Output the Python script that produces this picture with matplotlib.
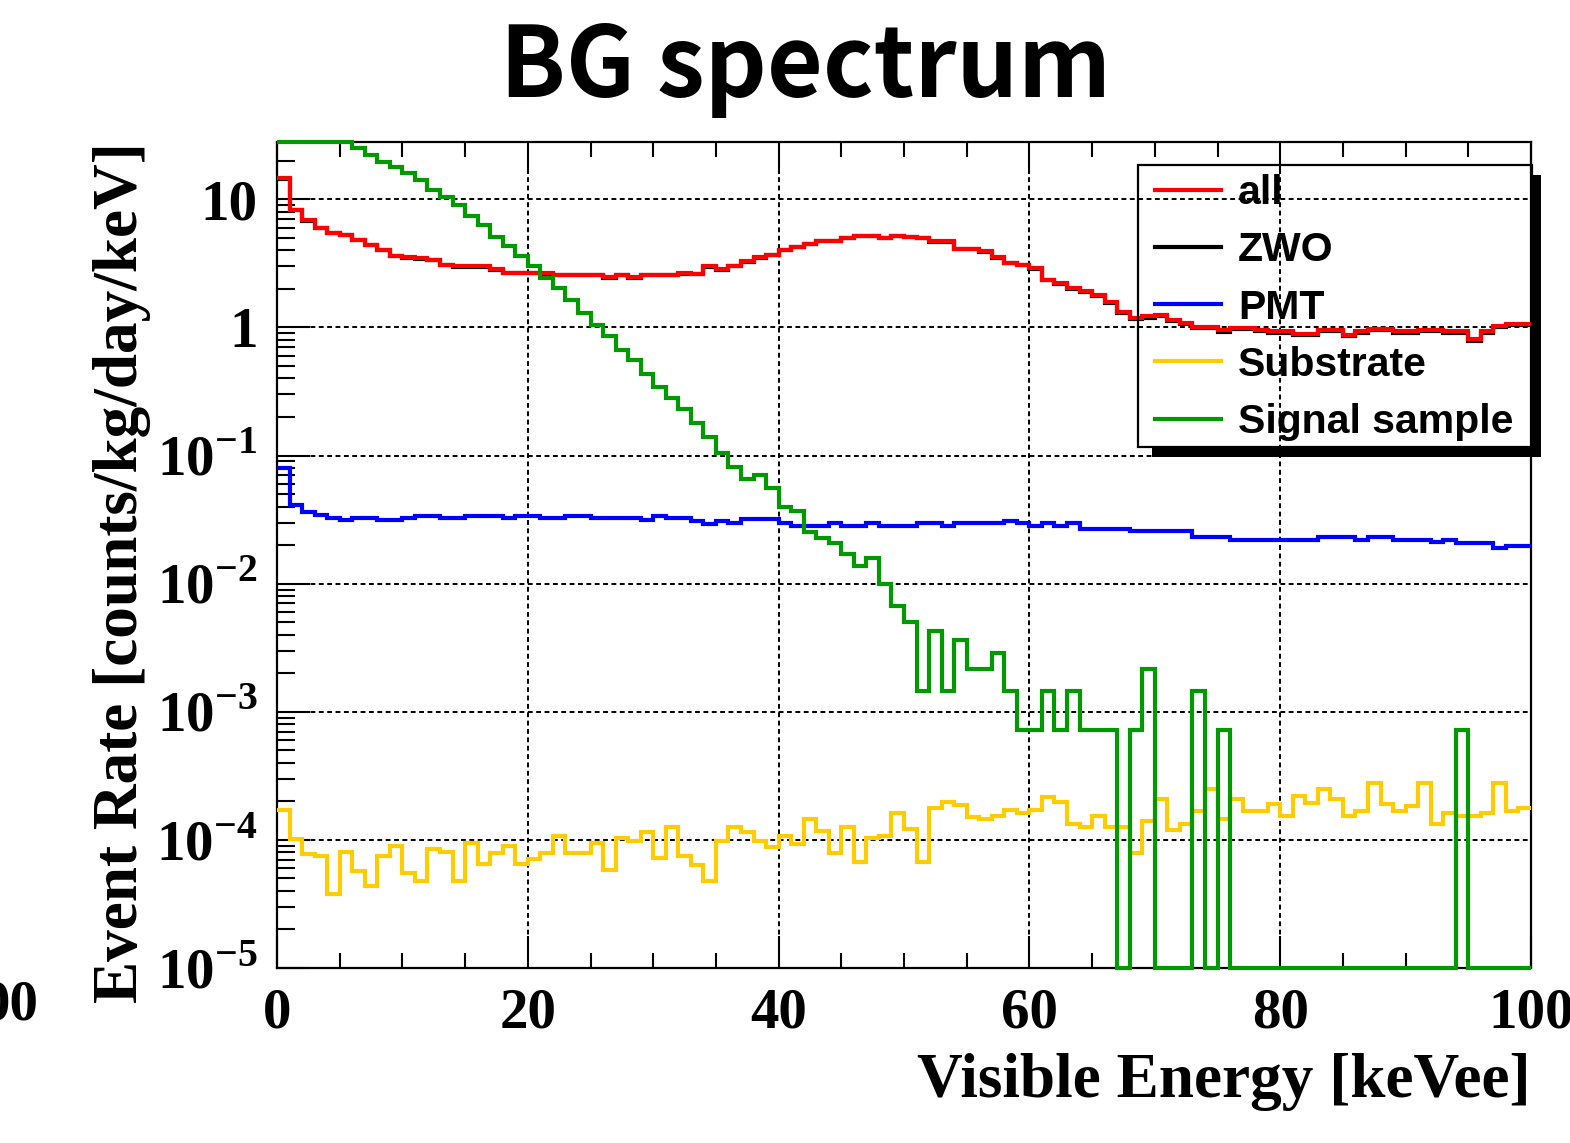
import numpy as np
import matplotlib
matplotlib.use("Agg")
import matplotlib.pyplot as plt
from matplotlib.lines import Line2D
from matplotlib.patches import Rectangle
from matplotlib.ticker import FixedLocator, LogLocator, FuncFormatter, MultipleLocator, NullFormatter

plt.rcParams['mathtext.fontset'] = 'custom'
plt.rcParams['mathtext.rm'] = 'Liberation Serif:bold'
plt.rcParams['mathtext.bf'] = 'Liberation Serif:bold'

# 1 keV bins, 0-100 keVee
edges = np.arange(0, 101)

all_rate = [14.6, 8.3, 6.85, 5.96, 5.45, 5.28, 4.83, 4.42, 4.04, 3.62,
            3.54, 3.48, 3.37, 3.08, 2.99, 2.99, 2.99, 2.85, 2.68, 2.68,
            2.68, 2.65, 2.58, 2.58, 2.58, 2.58, 2.46, 2.58, 2.46, 2.58,
            2.58, 2.58, 2.64, 2.62, 2.99, 2.85, 3.03, 3.27, 3.52, 3.69,
            4.04, 4.24, 4.50, 4.75, 4.75, 4.98, 5.19, 5.19, 4.98, 5.19,
            5.07, 4.98, 4.69, 4.69, 4.09, 4.09, 3.92, 3.52, 3.21, 3.08,
            2.90, 2.36, 2.22, 2.03, 1.91, 1.80, 1.57, 1.33, 1.18, 1.22,
            1.26, 1.15, 1.08, 1.01, 1.01, 0.95, 0.99, 0.99, 0.96, 0.93,
            0.93, 0.89, 0.89, 0.96, 0.96, 0.88, 0.93, 0.97, 0.97, 0.93,
            0.93, 0.96, 0.96, 0.93, 0.93, 0.81, 0.93, 1.02, 1.07, 1.07]

pmt_rate = [0.080, 0.0414, 0.036, 0.0346, 0.0326, 0.0313, 0.0326, 0.0326, 0.0313, 0.0313,
            0.0326, 0.034, 0.034, 0.0326, 0.0326, 0.034, 0.034, 0.034, 0.0326, 0.034,
            0.034, 0.0326, 0.0326, 0.034, 0.034, 0.0326, 0.0326, 0.0326, 0.0326, 0.0313,
            0.034, 0.0326, 0.0326, 0.0307, 0.0294, 0.031, 0.030, 0.0318, 0.0318, 0.0318,
            0.030, 0.0284, 0.0282, 0.0282, 0.030, 0.0282, 0.0282, 0.030, 0.0282, 0.0282,
            0.0282, 0.030, 0.030, 0.0282, 0.030, 0.030, 0.030, 0.030, 0.031, 0.030,
            0.0282, 0.030, 0.0282, 0.030, 0.0267, 0.0267, 0.0267, 0.0267, 0.0257, 0.0257,
            0.0257, 0.0257, 0.0257, 0.0230, 0.0230, 0.0230, 0.0221, 0.0221, 0.0221, 0.0221,
            0.0221, 0.0221, 0.0221, 0.0230, 0.0230, 0.0230, 0.0221, 0.0230, 0.0230, 0.0221,
            0.0221, 0.0221, 0.0211, 0.0221, 0.0208, 0.0208, 0.0208, 0.0190, 0.0198, 0.0198]

substrate_rate = [1.71e-4, 1.01e-4, 7.71e-5, 7.48e-5, 3.76e-5, 8.03e-5, 5.71e-5, 4.36e-5, 7.48e-5, 8.95e-5,
                  5.54e-5, 4.77e-5, 8.43e-5, 8.03e-5, 4.77e-5, 9.5e-5, 6.44e-5, 7.94e-5, 8.95e-5, 6.44e-5,
                  7.05e-5, 7.94e-5, 1.08e-4, 7.94e-5, 7.94e-5, 9.5e-5, 5.82e-5, 1.04e-4, 9.8e-5, 1.15e-4,
                  7.26e-5, 1.27e-4, 7.48e-5, 6.32e-5, 4.77e-5, 9.8e-5, 1.27e-4, 1.15e-4, 9.8e-5, 8.85e-5,
                  1.07e-4, 9.22e-5, 1.46e-4, 1.17e-4, 7.94e-5, 1.27e-4, 6.71e-5, 1.04e-4, 1.07e-4, 1.63e-4,
                  1.22e-4, 6.71e-5, 1.78e-4, 1.97e-4, 1.86e-4, 1.52e-4, 1.45e-4, 1.54e-4, 1.71e-4, 1.63e-4,
                  1.71e-4, 2.17e-4, 1.97e-4, 1.32e-4, 1.25e-4, 1.54e-4, 1.25e-4, 1.25e-4, 7.94e-5, 1.40e-4,
                  2.07e-4, 1.19e-4, 1.32e-4, 1.68e-4, 2.51e-4, 1.45e-4, 2.07e-4, 1.68e-4, 1.68e-4, 1.89e-4,
                  1.54e-4, 2.20e-4, 1.95e-4, 2.51e-4, 2.07e-4, 1.54e-4, 1.68e-4, 2.79e-4, 1.89e-4, 1.68e-4,
                  1.84e-4, 2.79e-4, 1.32e-4, 1.63e-4, 1.54e-4, 1.54e-4, 1.63e-4, 2.79e-4, 1.68e-4, 1.78e-4]

signal_rate = [60, 52, 45, 39, 34, 30, 25, 22, 19.7, 18,
               16, 14.2, 11.9, 10.5, 9.06, 7.35, 6.3, 5.1, 4.3, 3.58,
               2.99, 2.43, 2.03, 1.64, 1.29, 1.05, 0.85, 0.67, 0.56, 0.43,
               0.34, 0.28, 0.23, 0.18, 0.14, 0.105, 0.082, 0.066, 0.070, 0.056,
               0.040, 0.037, 0.0252, 0.0227, 0.0208, 0.0169, 0.0138, 0.0159, 0.0100, 0.00675,
               0.0050, 0.00145, 0.00425, 0.00145, 0.00366, 0.00216, 0.00216, 0.00289, 0.00145, 0.000722,
               0.000722, 0.00145, 0.000722, 0.00145, 0.000722, 0.000722, 0.000722, 0, 0.000722, 0.00216,
               0, 0, 0, 0.00145, 0, 0.000722, 0, 0, 0, 0,
               0, 0, 0, 0, 0, 0, 0, 0, 0, 0,
               0, 0, 0, 0, 0.000722, 0, 0, 0, 0, 0]

all_rate = np.array(all_rate)
pmt_rate = np.array(pmt_rate)
substrate_rate = np.array(substrate_rate)
zwo_rate = all_rate - pmt_rate - substrate_rate   # ZWO = total minus the other components

ymin, ymax = 1e-5, 28.0

W, H = 1570, 1143
fig = plt.figure(figsize=(W / 100, H / 100), dpi=100)
ax = fig.add_axes([277 / W, 1 - 968 / H, (1531 - 277) / W, (968 - 142) / H])

lw = 3.0
ax.stairs(zwo_rate, edges, baseline=None, color='black', lw=lw, zorder=3)
ax.stairs(all_rate, edges, baseline=None, color='#ff0000', lw=lw, zorder=4)
ax.stairs(pmt_rate, edges, baseline=None, color='#0000ff', lw=lw, zorder=4)
ax.stairs(substrate_rate, edges, baseline=None, color='#ffcc00', lw=lw, zorder=4)
# ROOT draws out-of-range bins on the frame
ax.stairs(np.clip(signal_rate, ymin, ymax), edges, baseline=None, color='#009900',
          lw=lw, zorder=5, clip_on=False)

ax.set_yscale('log')
ax.set_xlim(0, 100)
ax.set_ylim(ymin, ymax)

serif = 'Liberation Serif'
ax.xaxis.set_major_locator(MultipleLocator(20))
ax.xaxis.set_minor_locator(MultipleLocator(5))
ax.yaxis.set_major_locator(FixedLocator([1e-5, 1e-4, 1e-3, 1e-2, 1e-1, 1, 10]))
ax.yaxis.set_minor_locator(LogLocator(base=10, subs=np.arange(2, 10)))
ax.yaxis.set_minor_formatter(NullFormatter())


def ylab(v, pos):
    e = int(round(np.log10(v)))
    if e == 0:
        return '1'
    if e == 1:
        return '10'
    return r'$10^{%d}$' % e


ax.yaxis.set_major_formatter(FuncFormatter(ylab))

ax.tick_params(axis='x', which='both', direction='in', top=True, bottom=True, width=1.5)
ax.tick_params(axis='x', which='major', length=23, pad=14)
ax.tick_params(axis='x', which='minor', length=11)
ax.tick_params(axis='y', which='both', direction='in', left=True, right=False, width=1.5)
ax.tick_params(axis='y', which='major', length=24, pad=14)
ax.tick_params(axis='y', which='minor', length=13)
for lab in ax.get_xticklabels() + ax.get_yticklabels():
    lab.set_fontfamily(serif)
    lab.set_fontweight('bold')
    lab.set_fontsize(41)

for s in ax.spines.values():
    s.set_linewidth(1.6)

ax.grid(True, which='major', color='black', linestyle=(0, (2.5, 1.8)), linewidth=1.4)

ax.set_xlabel('Visible Energy [keVee]', fontfamily=serif, fontweight='bold', fontsize=45.5,
              loc='right', labelpad=10)
ax.set_ylabel('Event Rate [counts/kg/day/keV]', fontfamily=serif, fontweight='bold',
              fontsize=45.5, loc='top', labelpad=4)

fig.text(806 / W, 1 - 68 / H, 'BG spectrum', ha='center', va='center',
         fontfamily='Noto Sans CJK JP', fontweight='bold', fontsize=69.5)

# remnant of a neighbouring panel's tick label
fig.text(-18 / W, 1 - 1005 / H, '00', ha='left', va='center', fontfamily=serif,
         fontweight='bold', fontsize=41)

# legend frame with ROOT-style shadow (transparent box)
fig.patches.append(Rectangle((1532 / W, 1 - 457 / H), 9 / W, (457 - 175) / H,
                             transform=fig.transFigure, facecolor='black', edgecolor='none', zorder=6))
fig.patches.append(Rectangle((1152 / W, 1 - 457 / H), (1541 - 1152) / W, 9 / H,
                             transform=fig.transFigure, facecolor='black', edgecolor='none', zorder=6))
fig.patches.append(Rectangle((1138 / W, 1 - 447 / H), (1532 - 1138) / W, (447 - 165) / H,
                             transform=fig.transFigure, facecolor='none', edgecolor='black',
                             lw=1.6, zorder=6))

labels = ['all', 'ZWO', 'PMT', 'Substrate', 'Signal sample']
colors = ['#ff0000', 'black', '#0000ff', '#ffcc00', '#009900']
handles = [Line2D([], [], color=c, lw=lw) for c in colors]
leg = fig.legend(handles, labels, loc='upper left', bbox_to_anchor=(1155 / W, 1 - 174 / H),
                 frameon=False, borderpad=0, borderaxespad=0, handlelength=1.6,
                 handletextpad=0.42, labelspacing=0.47,
                 prop={'family': 'Liberation Sans', 'weight': 'bold', 'size': 29.5})
leg.set_zorder(7)

fig.savefig('out.png', dpi=100)
